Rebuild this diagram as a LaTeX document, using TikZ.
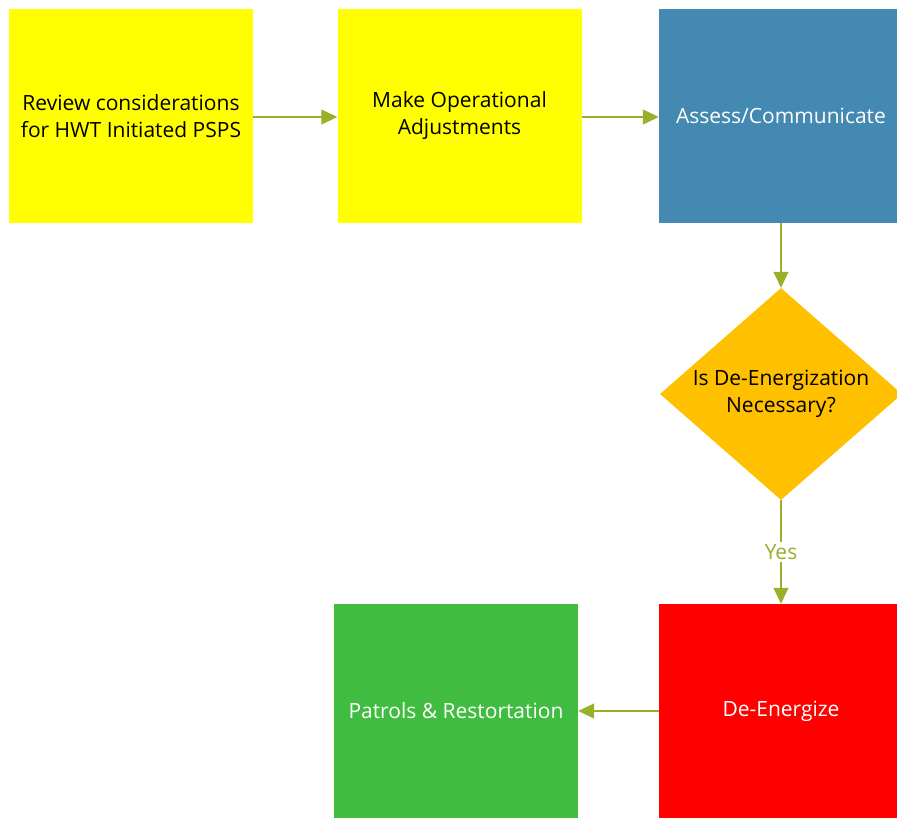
\documentclass[tikz,border=0pt]{standalone}
\usepackage{fontspec}
\setmainfont{Open Sans}
\usetikzlibrary{arrows.meta,shapes.geometric}
\definecolor{arrowc}{RGB}{152,176,42}
\definecolor{boxyellow}{RGB}{255,255,0}
\definecolor{boxblue}{RGB}{67,137,177}
\definecolor{diamondc}{RGB}{255,192,0}
\definecolor{boxred}{RGB}{255,0,0}
\definecolor{boxgreen}{RGB}{64,189,64}
\begin{document}
\begin{tikzpicture}[x=1pt,y=-1pt,
  stepbox/.style={rectangle,draw=none,minimum width=244pt,minimum height=214pt,inner sep=0pt,align=center,font=\fontsize{21}{27}\selectfont},
  decision/.style={diamond,draw=none,minimum width=242pt,minimum height=212pt,inner sep=0pt,align=center,aspect=1.14,font=\fontsize{21}{27}\selectfont},
  conn/.style={draw=arrowc,line width=1.2pt,-{Triangle[length=16pt,width=15pt]}},
  lbl/.style={fill=white,text=arrowc,inner sep=2pt,font=\fontsize{21}{24}\selectfont}]
\useasboundingbox (0,0) rectangle (897,817);
\begin{scope}
\clip (0,0) rectangle (897,817);
\node[stepbox,fill=boxyellow,text=black] (review) at (131,116) {Review considerations\\for HWT Initiated PSPS};
\node[stepbox,fill=boxyellow,text=black] (adjust) at (459.5,116) {Make Operational\\Adjustments};
\node[stepbox,fill=boxblue,text=white] (assess) at (781,116) {Assess/Communicate};
\node[decision,fill=diamondc,text=black] (decide) at (781,394) {Is De-Energization\\Necessary?};
\node[stepbox,fill=boxred,text=white] (deenergize) at (781,711) {De-Energize};
\node[stepbox,fill=boxgreen,text=white] (patrols) at (456,711) {Patrols \& Restortation};
\draw[conn] (review.east |- 0,117) -- (adjust.west |- 0,117);
\draw[conn] (adjust.east |- 0,117) -- (assess.west |- 0,117);
\draw[conn] (assess.south) -- (decide.north);
\draw[conn] (decide.south) -- node[lbl] {Yes} (deenergize.north);
\draw[conn] (deenergize.west) -- (patrols.east);
\end{scope}
\end{tikzpicture}
\end{document}
